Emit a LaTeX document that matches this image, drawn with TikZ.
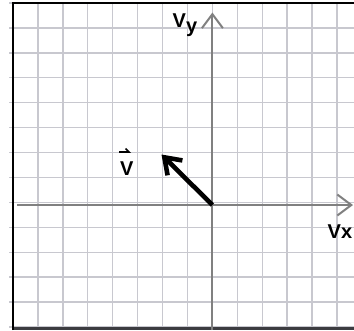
\documentclass[tikz,border=0pt]{standalone}
\usepackage{fontspec}
\setmainfont{Liberation Sans}
\usetikzlibrary{arrows.meta}
\definecolor{gridgray}{RGB}{200,200,207}
\definecolor{axisgray}{RGB}{128,128,128}
\definecolor{edgegray}{RGB}{60,60,64}
\begin{document}
\begin{tikzpicture}[x=1pt,y=-1pt,
  gridline/.style={draw=gridgray, line width=1.4pt},
  axisline/.style={draw=axisgray, line width=2pt, -{Straight Barb[length=14pt,width=21pt,line width=2pt]}},
  vecline/.style={draw=black, line width=4.6pt, -{Straight Barb[length=15pt,width=21pt,line width=4.6pt]}},
  lab/.style={font=\fontsize{20}{20}\selectfont\bfseries, inner sep=0pt, anchor=base west},
  vlab/.style={font=\fontsize{20}{20}\selectfont\bfseries, inner sep=0pt, anchor=base west}]
\useasboundingbox (0,0) rectangle (354,330);
\fill[white] (0,0) rectangle (354,330);
% grid
\foreach \i in {0,...,13} \draw[gridline] ({13+24.92*\i},3) -- ({13+24.92*\i},330);
\foreach \j in {0,...,13} \draw[gridline] (9,{3+24.92*\j}) -- (354,{3+24.92*\j});
% borders
\draw[edgegray, line width=3pt] (13,328.5) -- (354,328.5);
\draw[black, line width=2.5pt, line join=miter] (13,330) -- (13,3) -- (354,3);
% axes
\coordinate (O) at (212.4,205);
\coordinate (ybot) at (212.4,330);
\coordinate (ytop) at (212.4,12.5);
\coordinate (xleft) at (17,205);
\coordinate (xright) at (353,205);
\draw[axisline] (ybot) -- (ytop);
\draw[axisline] (xleft) -- (xright);
% vector
\coordinate (tip) at (161.5,154.5);
\draw[vecline] (O) -- (tip);
% labels
\node[lab] (vy) at (172.5,27.5) {V\raisebox{-5pt}{y}};
\node[lab] (vx) at (327.5,238) {Vx};
\node[vlab] (vv) at (120,175) {V};
\coordinate (va) at (119,152);
\coordinate (vb) at (131,152);
\draw[black, line width=1.6pt, -{Straight Barb[harpoon,length=3.5pt,width=7pt]}] (va) -- (vb);
\end{tikzpicture}
\end{document}
